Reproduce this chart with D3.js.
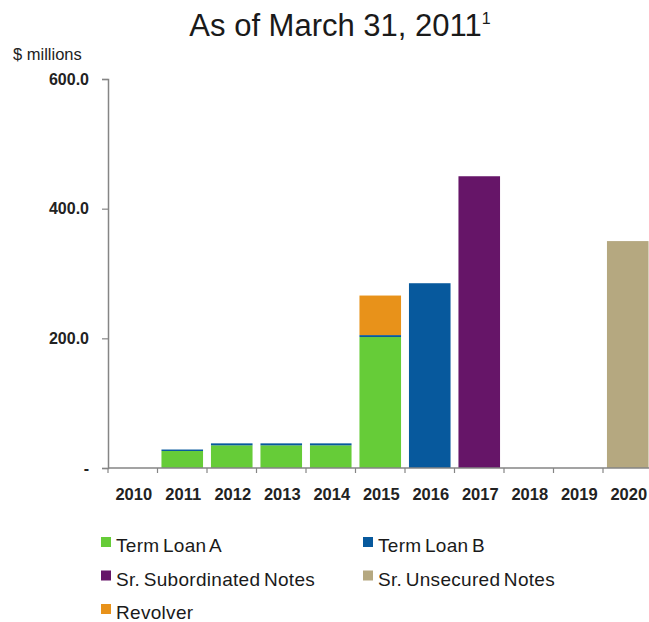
<!DOCTYPE html>
<html>
<head>
<meta charset="utf-8">
<script src="https://cdn.jsdelivr.net/npm/d3@7"></script>
<style>
  html, body { margin: 0; padding: 0; background: #fff; }
  svg { display: block; font-family: Arial, "Liberation Sans", sans-serif; }
</style>
</head>
<body>
<svg id="chart" width="649" height="622"></svg>
<script>
// Debt maturities by year ($ millions)
const years = ["2010", "2011", "2012", "2013", "2014", "2015", "2016", "2017", "2018", "2019", "2020"];
const termLoanA = [0, 26.25, 35, 35, 35, 202, 0, 0, 0, 0, 0];
const termLoanB = [0, 2.25, 3, 3, 3, 3, 285, 0, 0, 0, 0];
const revolver = [0, 0, 0, 0, 0, 61, 0, 0, 0, 0, 0];
const srSubordinated = [0, 0, 0, 0, 0, 0, 0, 450, 0, 0, 0];
const srUnsecured = [0, 0, 0, 0, 0, 0, 0, 0, 0, 0, 350];
const yTicks = [0, 200, 400, 600];

const seriesKeys = ["Term Loan A", "Term Loan B", "Revolver", "Sr. Subordinated Notes", "Sr. Unsecured Notes"];
const seriesValues = [termLoanA, termLoanB, revolver, srSubordinated, srUnsecured];
const colors = {
  "Term Loan A": "#66cc38",
  "Term Loan B": "#07599d",
  "Revolver": "#e8921a",
  "Sr. Subordinated Notes": "#661568",
  "Sr. Unsecured Notes": "#b5a880"
};
const legendOrder = ["Term Loan A", "Term Loan B", "Sr. Subordinated Notes", "Sr. Unsecured Notes", "Revolver"];

const rows = years.map((yr, i) => {
  const r = { year: yr };
  seriesKeys.forEach((k, j) => { r[k] = seriesValues[j][i]; });
  return r;
});

const svg = d3.select("#chart");

const x = d3.scaleBand().domain(years).range([108, 652.5]).paddingInner(0.16).paddingOuter(0.08);
const y = d3.scaleLinear().domain([0, 600]).range([468, 79]);

// Title
const title = svg.append("text")
  .attr("x", 340).attr("y", 36)
  .attr("text-anchor", "middle")
  .attr("font-size", 31)
  .attr("fill", "#1a1a1a");
title.append("tspan").text("As of March 31, 2011");
title.append("tspan").attr("font-size", 16).attr("dy", -12).text("1");

// Units label
svg.append("text")
  .attr("x", 13).attr("y", 60)
  .attr("font-size", 16.5)
  .attr("fill", "#222")
  .text("$ millions");

// Stacked bars
const stacked = d3.stack().keys(seriesKeys)(rows);
svg.append("g").selectAll("g")
  .data(stacked)
  .join("g")
  .attr("fill", d => colors[d.key])
  .selectAll("rect")
  .data(d => d.filter(p => p[1] - p[0] > 0))
  .join("rect")
  .attr("x", d => x(d.data.year))
  .attr("width", x.bandwidth())
  .attr("y", d => y(d[1]))
  .attr("height", d => y(d[0]) - y(d[1]));

// Y axis
const yAxis = svg.append("g")
  .attr("transform", "translate(108,0)")
  .call(d3.axisLeft(y).tickValues(yTicks).tickSize(6).tickPadding(13)
    .tickFormat(v => v === 0 ? "-" : d3.format(".1f")(v)));
yAxis.select(".domain").attr("stroke", "#858585").attr("stroke-width", 1.5);
yAxis.selectAll(".tick line").attr("stroke", "#858585").attr("stroke-width", 1.2);
yAxis.selectAll(".tick text")
  .attr("font-size", 16).attr("font-weight", "bold")
  .attr("fill", "#222").attr("font-family", "Arial, 'Liberation Sans', sans-serif");

// X axis baseline, boundary ticks, and year labels
const step = x.step();
const x0 = x(years[0]) - step * x.paddingOuter();
const xAxis = svg.append("g");
xAxis.append("line")
  .attr("x1", x0).attr("x2", 649)
  .attr("y1", y(0)).attr("y2", y(0))
  .attr("stroke", "#858585").attr("stroke-width", 1.5);
xAxis.selectAll(".xt")
  .data(years)
  .join("line")
  .attr("class", "xt")
  .attr("x1", (d, i) => x0 + i * step).attr("x2", (d, i) => x0 + i * step)
  .attr("y1", y(0)).attr("y2", y(0) + 5)
  .attr("stroke", "#858585").attr("stroke-width", 1.2);
xAxis.selectAll(".xl")
  .data(years)
  .join("text")
  .attr("class", "xl")
  .attr("x", d => x(d) + x.bandwidth() / 2 + 1)
  .attr("y", 500)
  .attr("text-anchor", "middle")
  .attr("font-size", 16.5).attr("font-weight", "bold")
  .attr("fill", "#222")
  .text(d => d);

// Legend (two columns)
const legend = svg.append("g");
const legendItems = legend.selectAll("g")
  .data(legendOrder)
  .join("g")
  .attr("transform", (d, i) => `translate(${i % 2 === 0 ? 101 : 363},${537 + Math.floor(i / 2) * 33.5})`);
legendItems.append("rect")
  .attr("width", 10).attr("height", 10)
  .attr("fill", d => colors[d]);
legendItems.append("text")
  .attr("x", 15).attr("y", 15)
  .attr("font-size", 19)
  .attr("fill", "#1a1a1a")
  .attr("letter-spacing", 0.3)
  .attr("word-spacing", -2)
  .text(d => d);
</script>
</body>
</html>
